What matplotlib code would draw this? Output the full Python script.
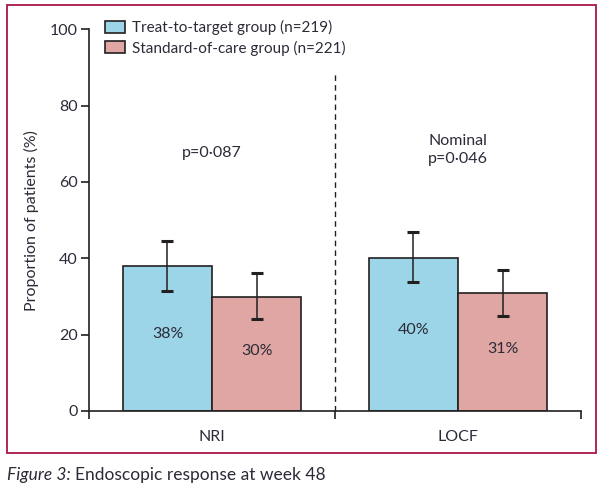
import matplotlib
matplotlib.use("Agg")
import matplotlib.pyplot as plt
from matplotlib.patches import Rectangle, Patch
from matplotlib import font_manager as fm

names = {f.name for f in fm.fontManager.ttflist}
fam = [n for n in ["Lato", "Open Sans", "DejaVu Sans"] if n in names]
plt.rcParams['font.family'] = fam

# ---- data ----
categories = ["NRI", "LOCF"]
groups = ["Treat-to-target group (n=219)", "Standard-of-care group (n=221)"]
t2t_values = [38.0, 40.2]
soc_values = [29.8, 30.8]
t2t_lower = [31.4, 33.7]
t2t_upper = [44.5, 46.8]
soc_lower = [24.1, 24.9]
soc_upper = [36.1, 36.9]
pct_labels_t2t = ["38%", "40%"]
pct_labels_soc = ["30%", "31%"]
p_texts = ["p=0·087", "Nominal\np=0·046"]
y_ticks = [0, 20, 40, 60, 80, 100]

blue = "#9DD5E8"
pink = "#E0A6A3"
edge = "#231F20"
txt = "#2B2B38"
frame = "#A8174A"
fs = 11.5

fig = plt.figure(figsize=(6.03, 4.93), dpi=100)
ax = fig.add_axes([89/603, 1-411/493, (581-89)/603, (411-29.3)/493])

centers = [0.5, 1.5]
w = 0.362
for i, c in enumerate(centers):
    ax.bar(c - w/2, t2t_values[i], width=w, color=blue, edgecolor=edge, linewidth=1.2, zorder=2)
    ax.bar(c + w/2, soc_values[i], width=w, color=pink, edgecolor=edge, linewidth=1.2, zorder=2)
    ax.errorbar(c - w/2, t2t_values[i],
                yerr=[[t2t_values[i]-t2t_lower[i]], [t2t_upper[i]-t2t_values[i]]],
                fmt='none', ecolor=edge, elinewidth=1.1, capsize=4.2, capthick=2.2, zorder=3)
    ax.errorbar(c + w/2, soc_values[i],
                yerr=[[soc_values[i]-soc_lower[i]], [soc_upper[i]-soc_values[i]]],
                fmt='none', ecolor=edge, elinewidth=1.1, capsize=4.2, capthick=2.2, zorder=3)
    ax.text(c - w/2, t2t_values[i]*0.53, pct_labels_t2t[i], ha='center', va='center',
            fontsize=fs, color=txt, zorder=4)
    ax.text(c + w/2, soc_values[i]*0.53, pct_labels_soc[i], ha='center', va='center',
            fontsize=fs, color=txt, zorder=4)

ax.text(centers[0], 67.6, p_texts[0], ha='center', va='center', fontsize=fs, color=txt, linespacing=1.3)
ax.text(centers[1], 68.4, p_texts[1], ha='center', va='center', fontsize=fs, color=txt, linespacing=1.3)

ax.plot([1, 1], [0, 88.6], color=edge, linewidth=1.0, linestyle=(0, (4, 3)), zorder=1)

ax.set_xlim(0, 2)
ax.set_ylim(0, 100)
ax.set_yticks(y_ticks)
ax.set_yticklabels([str(v) for v in y_ticks], fontsize=fs, color=txt)
ax.set_xticks([0, 1, 2])
ax.set_xticklabels([])
ax.set_xticks(centers, minor=True)
ax.set_xticklabels(categories, minor=True, fontsize=fs, color=txt)
ax.tick_params(axis='x', which='major', direction='out', length=6, width=1.2, color=edge)
ax.tick_params(axis='x', which='minor', length=0, pad=14)
ax.tick_params(axis='y', direction='out', length=6, width=1.2, color=edge, pad=2)
for s in ['top', 'right']:
    ax.spines[s].set_visible(False)
for s in ['left', 'bottom']:
    ax.spines[s].set_linewidth(1.2)
    ax.spines[s].set_color(edge)
ax.set_ylabel("Proportion of patients (%)", fontsize=fs, color=txt, labelpad=8)

handles = [Patch(facecolor=blue, edgecolor=edge, linewidth=1.2),
           Patch(facecolor=pink, edgecolor=edge, linewidth=1.2)]
leg = ax.legend(handles, groups, loc='upper left', bbox_to_anchor=(0.02, 1.04),
                frameon=False, fontsize=11, handlelength=1.3, handleheight=0.85,
                handletextpad=0.45, labelspacing=0.35, borderaxespad=0)
for t in leg.get_texts():
    t.set_color(txt)

fig.patches.append(Rectangle((7.3/603, 1-452.7/493), (596.3-7.3)/603, (452.7-5.3)/493,
                             transform=fig.transFigure, fill=False, edgecolor=frame,
                             linewidth=1.3))

cap1 = fig.text(7/603, 1-475/493, "Figure 3:", fontsize=12.5, style='italic', color=txt, va='center')
fig.canvas.draw()
bb = cap1.get_window_extent()
fig.text((bb.x1 + 4)/603, 1-475/493, "Endoscopic response at week 48", fontsize=12.5,
         color=txt, va='center')

fig.savefig("out.png", dpi=100)
